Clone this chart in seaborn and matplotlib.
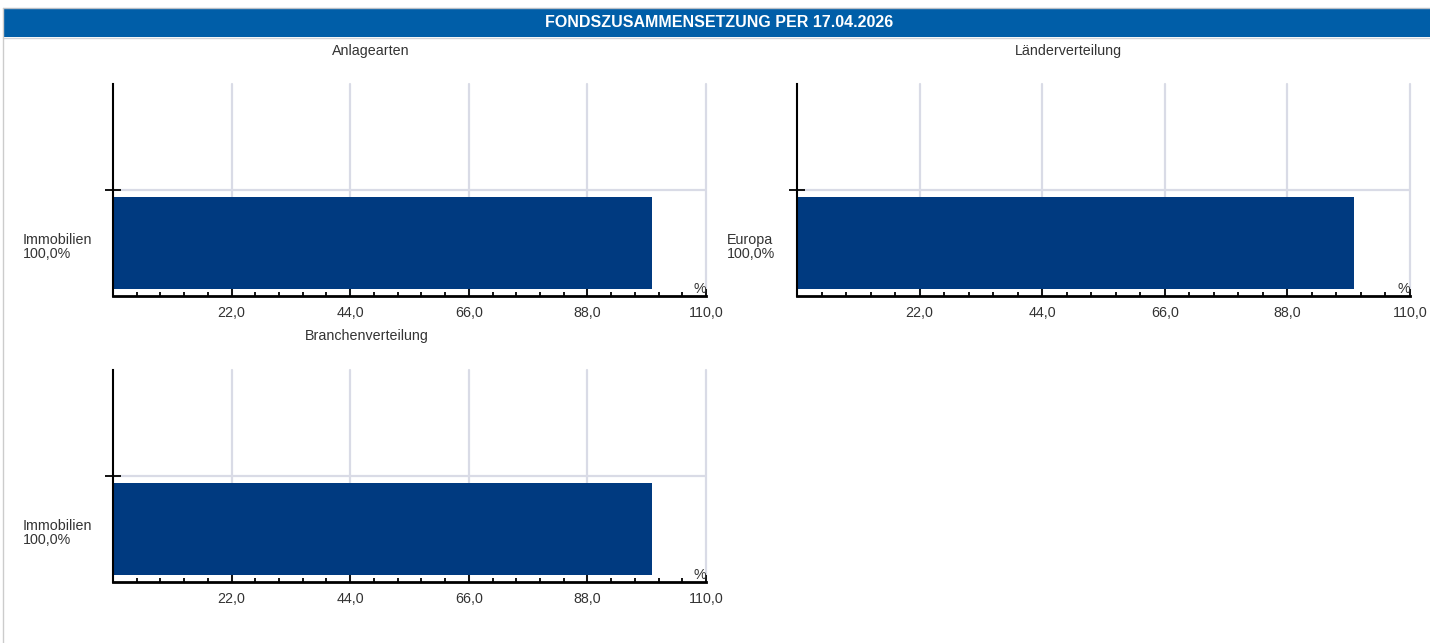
import pandas as pd
import seaborn as sns
import matplotlib.pyplot as plt
from matplotlib.patches import Rectangle
from matplotlib.lines import Line2D
from matplotlib.ticker import MultipleLocator
from matplotlib.transforms import blended_transform_factory

header = "FONDSZUSAMMENSETZUNG PER 17.04.2026"
panel_titles = ["Anlagearten", "Länderverteilung", "Branchenverteilung"]
panel_categories = [["Immobilien"], ["Europa"], ["Immobilien"]]
panel_values = [[100.0], [100.0], [100.0]]
x_ticks = [22, 44, 66, 88, 110]

sns.set_style("white")
plt.rcParams['font.family'] = ['Liberation Sans', 'DejaVu Sans']

W, H = 1430, 643
fig = plt.figure(figsize=(W / 100, H / 100), dpi=100)

def fx(px):
    return px / W

def fy(py):
    return 1 - py / H

# Kopfzeile
fig.patches.append(Rectangle((fx(3), fy(37)), 1 - fx(3), 29 / H, transform=fig.transFigure,
                             facecolor="#005EA8", edgecolor="none"))
fig.lines.append(Line2D([fx(3), 1], [fy(8), fy(8)], transform=fig.transFigure, color="#B8BEC6", lw=1))
fig.lines.append(Line2D([fx(3), 1], [fy(38), fy(38)], transform=fig.transFigure, color="#D0D4DA", lw=1))
fig.lines.append(Line2D([fx(3), fx(3)], [fy(8), 0], transform=fig.transFigure, color="#CCCCCC", lw=1))
fig.text(fx(719), fy(22.5), header, ha="center", va="center", color="white",
         fontsize=11.5, fontweight="bold")

# Achsen-Positionen in Pixeln: links, rechts, oben, unten
boxes = [(113, 706, 84, 296), (797, 1410, 84, 296), (113, 706, 370, 582)]
title_pos = [(371, 51), (1068, 51), (367, 336)]
label_x = [23, 727, 23]

text_col = "#333333"
grid_col = "#D9DBE6"
fs = 10.3

for i in range(3):
    l, r, t, b = boxes[i]
    ax = fig.add_axes([fx(l), fy(b), (r - l) / W, (b - t) / H])
    df = pd.DataFrame({"kategorie": panel_categories[i], "wert": panel_values[i]})
    sns.barplot(data=df, x="wert", y="kategorie", orient="h", color="#003A80",
                width=0.86, saturation=1, linewidth=0, ax=ax)
    ax.set_xlim(0, 110)
    ax.set_ylim(0.5, -1.5)
    ax.set_xlabel("")
    ax.set_ylabel("")

    ax.set_xticks(x_ticks)
    ax.set_xticklabels([f"{v:.1f}".replace(".", ",") for v in x_ticks], color=text_col, fontsize=fs)
    ax.xaxis.set_minor_locator(MultipleLocator(4.4))
    ax.set_yticks([-0.5])
    ax.set_yticklabels([""])
    ax.tick_params(axis="x", which="major", direction="in", length=5, width=1.3, color="black",
                   pad=7, bottom=True)
    ax.tick_params(axis="x", which="minor", direction="in", length=3, width=1.3, color="black",
                   bottom=True)
    ax.tick_params(axis="y", which="major", direction="inout", length=12, width=1.3, color="black",
                   left=True)

    ax.grid(True, which="major", color=grid_col, lw=1.6)
    for gl in ax.get_xgridlines():
        gl.set_clip_on(False)
    ax.set_axisbelow(True)
    sns.despine(ax=ax, top=True, right=True)
    ax.spines["left"].set_color("black")
    ax.spines["bottom"].set_color("black")
    ax.spines["left"].set_linewidth(1.5)
    ax.spines["bottom"].set_linewidth(2)

    ax.text(110, 0.5, "%", ha="right", va="bottom", color=text_col, fontsize=fs)

    trans = blended_transform_factory(fig.transFigure, ax.transData)
    for j, cat in enumerate(panel_categories[i]):
        val = f"{panel_values[i][j]:.1f}".replace(".", ",")
        ax.text(fx(label_x[i]), j + 0.04, f"{cat}\n{val}%", ha="left", va="center", color=text_col,
                fontsize=fs, linespacing=1.0, transform=trans, clip_on=False)

    fig.text(fx(title_pos[i][0]), fy(title_pos[i][1]), panel_titles[i], ha="center", va="center",
             color=text_col, fontsize=fs)

fig.savefig("out.png", dpi=100)
